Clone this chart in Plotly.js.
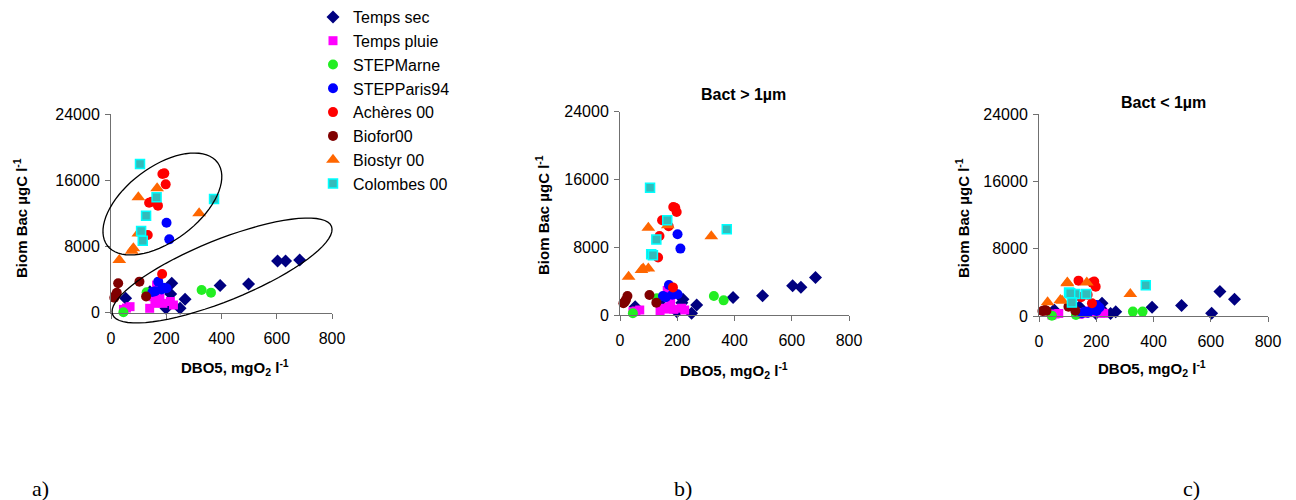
<!DOCTYPE html>
<html><head><meta charset="utf-8">
<script src="https://cdn.plot.ly/plotly-3.0.1.min.js"></script>
<style>html,body{margin:0;padding:0;background:#fff}#chart{width:1296px;height:500px}</style>
</head><body><div id="chart"></div>
<script>
// ---- data (DBO5 x, biomass in panel a = total, b = >1µm, c = <1µm) ----
const secX  = [53, 141, 199, 216, 220, 250, 268, 395, 498, 603, 632, 683];
const secA  = [1740, 2540, 530, 2260, 3550, 530, 1620, 3300, 3460, 6240, 6240, 6360];
const secB  = [980, 1300, 390, 1450, 1860, 200, 1180, 2080, 2270, 3450, 3290, 4430];
const secC  = [710, 1100, 310, 900, 1510, 310, 510, 1040, 1240, 320, 2920, 2000];

const pluieX = [45, 56, 69, 140, 152, 159, 165, 170, 177, 188, 215, 226];
const pluieA = [400, 560, 730, 530, 1930, 1130, 3340, 1500, 1740, 1130, 1350, 930];
const pluieB = [390, 470, 590, 500, 790, 700, 2900, 900, 1460, 670, 800, 590];
const pluieC = [120, 240, 300, 200, 400, 320, 450, 500, 600, 400, 350, 320];

const marneX = [45, 129, 328, 362];
const marneA = [50, 2460, 2740, 2420];
const marneB = [200, 1970, 2250, 1730];
const marneC = [40, 120, 520, 520];

const parisX = [150, 160, 171, 183, 190, 201, 201, 211];
const parisA = [2500, 2600, 3750, 2800, 3000, 2950, 10870, 8860];
const parisB = [2250, 2100, 3550, 2400, 2560, 2450, 9530, 7840];
const parisC = [320, 510, 400, 700, 910, 600, 1310, 1000];

const acheresX = [186, 193, 198, 138, 147, 170, 133, 185];
const acheresA = [16750, 16830, 15500, 13290, 13410, 12930, 9380, 4670];
const acheresB = [12750, 12670, 12160, 9330, 11180, 10470, 6790, 3260];
const acheresC = [3970, 4100, 3490, 4200, 2240, 2520, 2400, 1510];

const bioforX = [26, 17, 21, 12, 103, 127];
const bioforA = [3550, 2140, 2400, 1800, 3750, 1950];
const bioforB = [2250, 1580, 1800, 1380, 2360, 1460];
const bioforC = [630, 630, 700, 600, 1110, 630];

const biostyrX = [99, 167, 319, 99, 81, 75, 30];
const biostyrA = [13930, 15020, 12000, 9580, 7770, 7490, 6360];
const biostyrB = [10310, 10590, 9300, 5490, 5490, 5300, 4510];
const biostyrC = [3970, 3970, 2620, 3900, 1820, 1900, 1630];

const colombesX = [105, 165, 127, 109, 115, 373];
const colombesA = [17960, 13930, 11720, 9870, 8700, 13730];
const colombesB = [15020, 11180, 8900, 7180, 7060, 10120];
const colombesC = [2780, 2620, 2620, 2700, 1590, 3640];

const seriesNames = ['Temps sec', 'Temps pluie', 'STEPMarne', 'STEPParis94', 'Achères 00', 'Biofor00', 'Biostyr 00', 'Colombes 00'];
const xTicks = [0, 200, 400, 600, 800];
const yTicks = [0, 8000, 16000, 24000];
const panelTitles = ['', 'Bact > 1µm', 'Bact < 1µm'];
const panelLetters = ['a)', 'b)', 'c)'];

// ---- styling ----
const W = 1296, H = 500;
const styles = [
  {symbol:'diamond', color:'#000080', size:10},
  {symbol:'square', color:'#FF00FF', size:9},
  {symbol:'circle', color:'#22EE22', size:10},
  {symbol:'circle', color:'#0000FF', size:10},
  {symbol:'circle', color:'#FF0000', size:10},
  {symbol:'circle', color:'#800000', size:10},
  {symbol:'triangle-up', color:'#FF6600', size:12},
  {symbol:'square', color:'#33BBBB', size:9, line:'#00FFFF'}
];
const seriesX = [secX, pluieX, marneX, parisX, acheresX, bioforX, biostyrX, colombesX];
const seriesY = [
  [secA, pluieA, marneA, parisA, acheresA, bioforA, biostyrA, colombesA],
  [secB, pluieB, marneB, parisB, acheresB, bioforB, biostyrB, colombesB],
  [secC, pluieC, marneC, parisC, acheresC, bioforC, biostyrC, colombesC]
];

// panel geometry in pixels
const panels = [
  {x0:111, x1:332, y0:312.7, y1:114, ytx:21, yty:218, xtx:235, xty:367, ttx:0, tty:0, lx:40},
  {x0:620, x1:849, y0:315, y1:111.7, ytx:543, yty:215, xtx:734, xty:370, ttx:743, tty:95, lx:683},
  {x0:1039, x1:1268, y0:316, y1:114, ytx:963, yty:218, xtx:1152, xty:368, ttx:1163, tty:103, lx:1191}
];

const traces = [];
seriesY.forEach((panelSeries, p) => {
  panelSeries.forEach((ys, s) => {
    const st = styles[s];
    traces.push({
      type:'scatter', mode:'markers', name:seriesNames[s],
      x: seriesX[s], y: ys,
      xaxis: p === 0 ? 'x' : 'x' + (p + 1),
      yaxis: p === 0 ? 'y' : 'y' + (p + 1),
      legendgroup: 'g' + s,
      showlegend: p === 0,
      cliponaxis: false,
      marker:{symbol:st.symbol, color:st.color, size:st.size,
              line:{color: st.line || st.color, width: st.line ? 1.5 : 0}},
      hoverinfo:'x+y+name'
    });
  });
});

function axisX(p) {
  const g = panels[p];
  return {domain:[g.x0 / W, g.x1 / W], range:[0, 800], tickvals:xTicks, ticktext:xTicks.map(String),
    showgrid:false, zeroline:false, showline:true, linecolor:'#707070', linewidth:1,
    ticks:'outside', ticklen:5, tickcolor:'#707070', ticklabelstandoff:6,
    tickfont:{family:'Liberation Sans, Arial', size:16, color:'#000'},
    anchor: p === 0 ? 'y' : 'y' + (p + 1), fixedrange:true};
}
function axisY(p) {
  const g = panels[p];
  return {domain:[1 - g.y0 / H, 1 - g.y1 / H], range:[0, 24000], tickvals:yTicks, ticktext:yTicks.map(String),
    showgrid:false, zeroline:false, showline:true, linecolor:'#707070', linewidth:1,
    ticks:'outside', ticklen:5, tickcolor:'#707070', ticklabelstandoff:2,
    tickfont:{family:'Liberation Sans, Arial', size:16, color:'#000'},
    anchor: p === 0 ? 'x' : 'x' + (p + 1), fixedrange:true};
}

const annotations = [];
panels.forEach((g, p) => {
  const base = {xref:'paper', yref:'paper', showarrow:false, xanchor:'center', yanchor:'middle'};
  annotations.push(Object.assign({}, base, {x:g.ytx / W, y:1 - g.yty / H, textangle:-90,
    text:'<b>Biom Bac µgC l<sup>-1</sup></b>', font:{family:'Liberation Sans, Arial', size:15, color:'#000'}}));
  annotations.push(Object.assign({}, base, {x:g.xtx / W, y:1 - g.xty / H,
    text:'<b>DBO5, mgO<sub>2</sub> l<sup>-1</sup></b>', font:{family:'Liberation Sans, Arial', size:15, color:'#000'}}));
  if (panelTitles[p]) {
    annotations.push(Object.assign({}, base, {x:g.ttx / W, y:1 - g.tty / H,
      text:'<b>' + panelTitles[p] + '</b>', font:{family:'Liberation Sans, Arial', size:16, color:'#000'}}));
  }
  annotations.push(Object.assign({}, base, {x:g.lx / W, y:1 - 488 / H,
    text:panelLetters[p], font:{family:'Liberation Serif, Times New Roman', size:22, color:'#000'}}));
});

// ellipses around the two groups in panel a (center in data units, semi-axes in px, tilt in degrees)
const ellipses = [
  {cx:186, cy:13130, a:69, b:37, angle:37},
  {cx:402, cy:5097, a:118, b:30.5, angle:22}
];
const g0 = panels[0];
function dataToPx(xv, yv) {
  return [g0.x0 + (g0.x1 - g0.x0) * xv / 800, g0.y0 + (g0.y1 - g0.y0) * yv / 24000];
}
const shapes = ellipses.map(e => {
  const [cxp, cyp] = dataToPx(e.cx, e.cy);
  const th = e.angle * Math.PI / 180;
  const pts = [];
  for (let i = 0; i <= 72; i++) {
    const t = i * 2 * Math.PI / 72;
    const px = cxp + e.a * Math.cos(t) * Math.cos(th) - e.b * Math.sin(t) * Math.sin(th);
    const py = cyp - (e.a * Math.cos(t) * Math.sin(th) + e.b * Math.sin(t) * Math.cos(th));
    pts.push((px / W).toFixed(5) + ',' + (1 - py / H).toFixed(5));
  }
  return {type:'path', xref:'paper', yref:'paper', path:'M' + pts.join(' L') + ' Z',
          line:{color:'#000', width:1.3}, fillcolor:'rgba(0,0,0,0)', layer:'above'};
});

const layout = {
  width:W, height:H, margin:{l:0, r:0, t:0, b:0},
  paper_bgcolor:'#fff', plot_bgcolor:'rgba(0,0,0,0)',
  font:{family:'Liberation Sans, Arial', color:'#000'},
  xaxis:axisX(0), yaxis:axisY(0), xaxis2:axisX(1), yaxis2:axisY(1), xaxis3:axisX(2), yaxis3:axisY(2),
  showlegend:true,
  legend:{x:313 / W, y:1, xanchor:'left', yanchor:'top', bgcolor:'rgba(0,0,0,0)',
          font:{family:'Liberation Sans, Arial', size:16, color:'#000'}, tracegroupgap:0,
          traceorder:'grouped'},
  annotations, shapes
};

Plotly.newPlot('chart', traces, layout, {staticPlot:true, displayModeBar:false});
</script>
</body></html>
